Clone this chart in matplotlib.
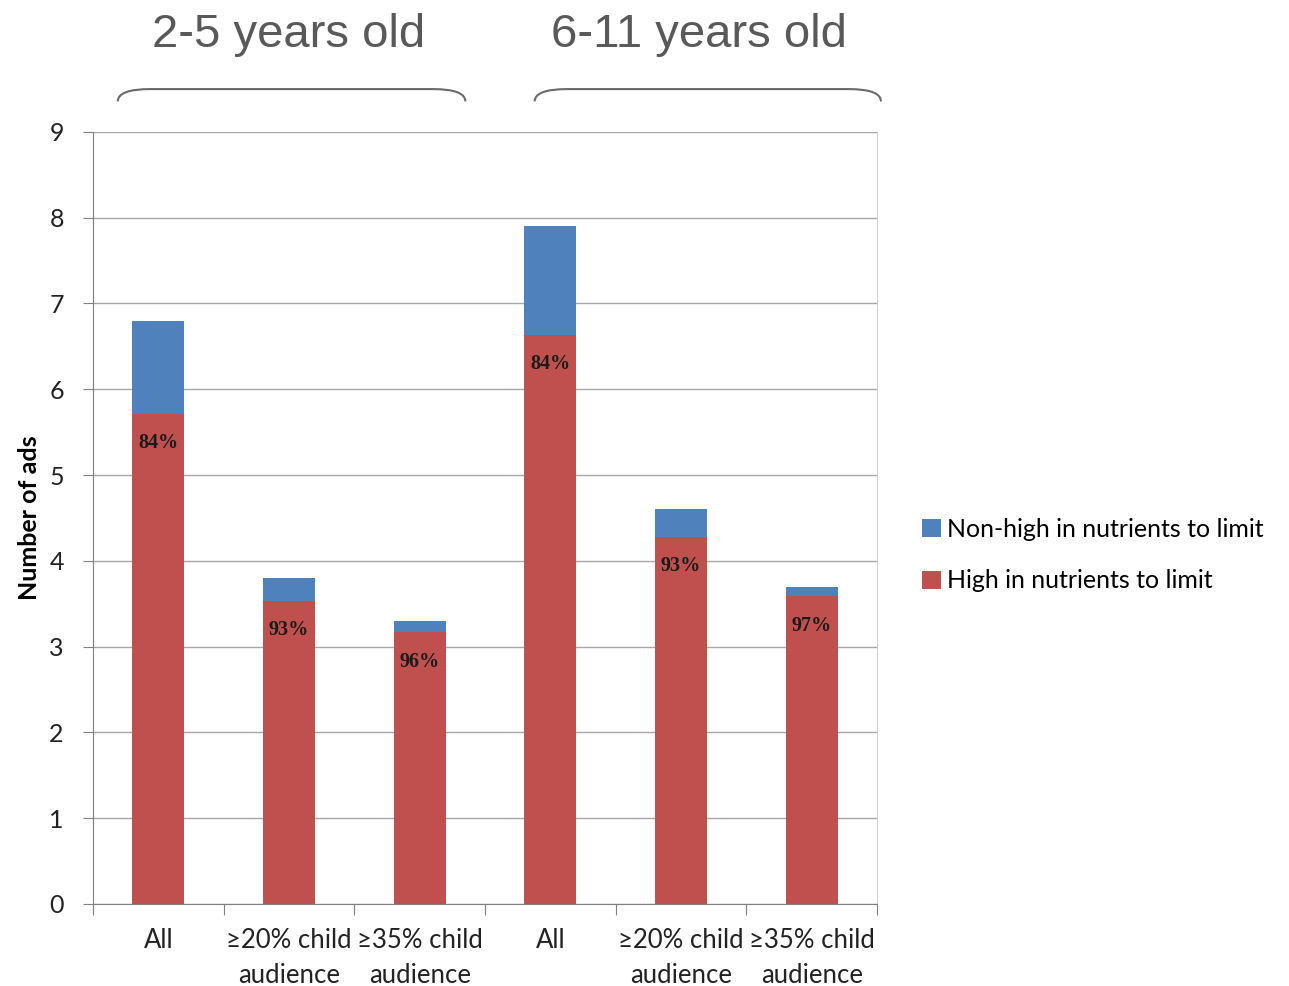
import numpy as np
import matplotlib.pyplot as plt
from matplotlib.path import Path
from matplotlib.patches import PathPatch

# number of ads per hour, by age group and audience share
categories = ["All", "\u226520% child\naudience", "\u226535% child\naudience",
              "All", "\u226520% child\naudience", "\u226535% child\naudience"]
total_ads = [6.8, 3.8, 3.3, 7.9, 4.6, 3.7]
pct_high = [84, 93, 96, 84, 93, 97]
groups = ["2-5 years old", "6-11 years old"]
# bracket extents over each group, in category units
group_spans = [(-0.31, 2.35), (2.88, 5.53)]

high = [t * p / 100 for t, p in zip(total_ads, pct_high)]
non_high = [t - h for t, h in zip(total_ads, high)]

BLUE = "#4F81BD"
RED = "#C0504D"
GRID = "#A6A6A6"

plt.rcParams['font.family'] = ['Lato', 'DejaVu Sans']

fig = plt.figure(figsize=(12.89, 9.86), dpi=100)
ax = fig.add_axes([0.0721, 0.0832, 0.6083, 0.7830])

x = np.arange(len(categories))
ax.bar(x, high, width=0.4, color=RED, zorder=3, label="High in nutrients to limit")
ax.bar(x, non_high, width=0.4, bottom=high, color=BLUE, zorder=3,
       label="Non-high in nutrients to limit")

for xi, h, p in zip(x, high, pct_high):
    ax.annotate(f"{p}%", (xi, h), xytext=(0, -14), textcoords="offset points",
                ha="center", va="top", fontsize=14.5, fontweight="bold",
                family="Liberation Serif", color="#1a1a1a")

ax.set_xlim(-0.5, 5.5)
ax.set_ylim(0, 9)
ax.set_yticks(range(10))
ax.yaxis.grid(True, color=GRID, lw=1, zorder=0)
ax.tick_params(axis="y", length=7, color="#808080", labelsize=18, pad=14,
               labelcolor="#222222")

# category labels sit between tick marks at the boundaries
ax.set_xticks(np.arange(-0.5, 6, 1))
ax.set_xticklabels([])
ax.set_xticks(x, minor=True)
ax.set_xticklabels(categories, minor=True, fontsize=18.5, color="#222222",
                   linespacing=1.5)
ax.tick_params(axis="x", which="major", length=8, color="#808080", direction="out")
ax.tick_params(axis="x", which="minor", length=0, pad=17)

for side in ["left", "bottom"]:
    ax.spines[side].set_color("#808080")
ax.spines["right"].set_color("#D0D0D0")
ax.spines["top"].set_visible(False)

ax.set_ylabel("Number of ads", fontsize=18, fontweight="bold", labelpad=6)

handles, labels = ax.get_legend_handles_labels()
fig.legend(handles[::-1], labels[::-1], loc="center left",
           bbox_to_anchor=(0.698, 0.437), frameon=False, fontsize=18,
           handlelength=0.75, handleheight=0.75, handletextpad=0.25,
           labelspacing=1.15)

# group headings with a bracket over each set of three bars
trans = ax.get_xaxis_transform()
title_x = [1.0, 4.14]
for g, (left, right), tx in zip(groups, group_spans, title_x):
    y0, y1 = 1.0395, 1.0555
    r = 0.25
    verts = [(left, y0), (left, y1), (left + r, y1), (right - r, y1),
             (right, y1), (right, y0)]
    codes = [Path.MOVETO, Path.CURVE3, Path.CURVE3, Path.LINETO,
             Path.CURVE3, Path.CURVE3]
    ax.add_patch(PathPatch(Path(verts, codes), transform=trans, fill=False,
                           edgecolor="#6A6A6A", lw=1.5, clip_on=False))
    ax.text(tx, 1.1255, g, transform=trans, ha="center", va="center",
            fontsize=34, family="Liberation Sans", color="#595959")

fig.savefig("out.png", dpi=100)
